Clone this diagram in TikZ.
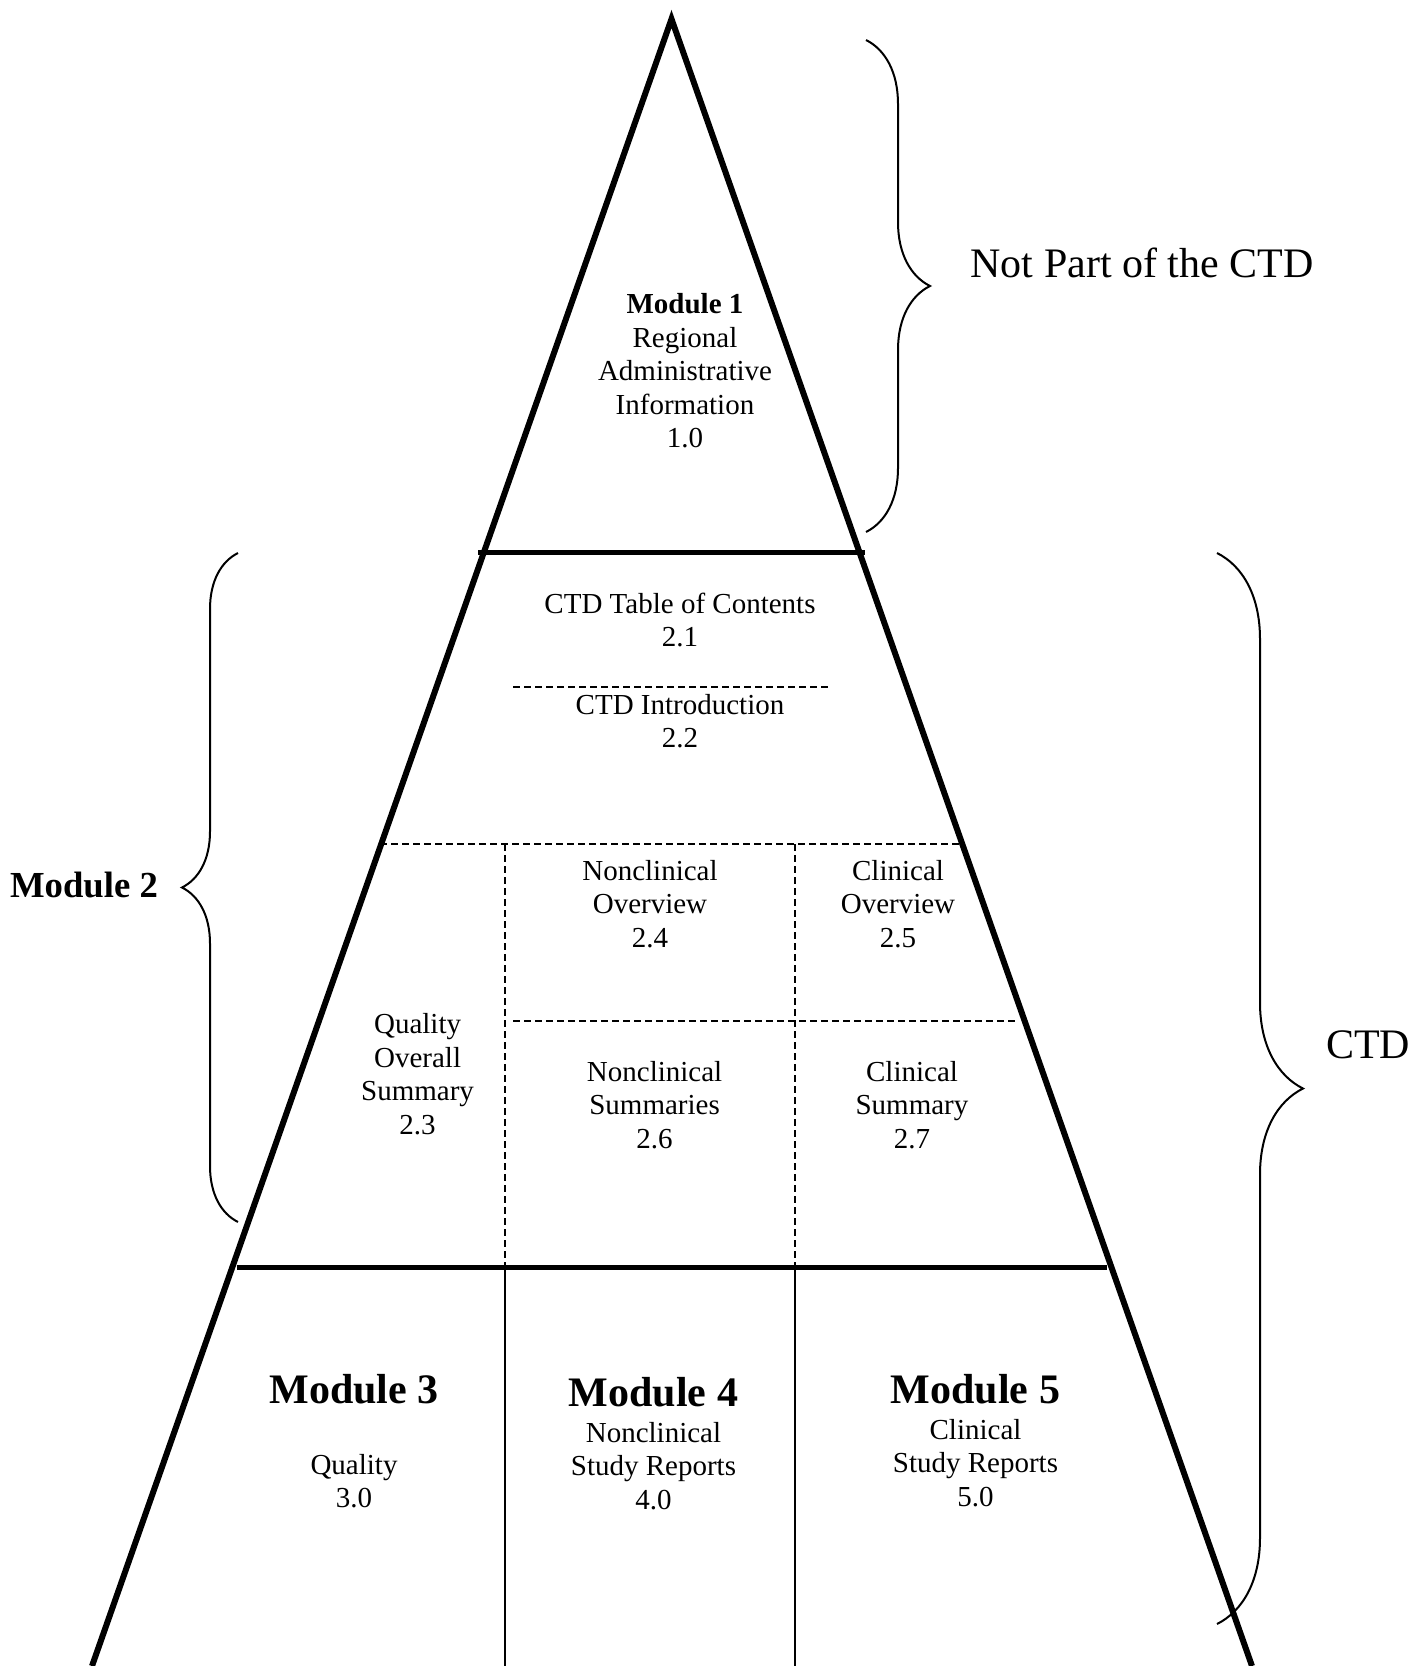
\documentclass[tikz,border=0pt]{standalone}
\usepackage{fontspec}
\setmainfont{Liberation Serif}
\usetikzlibrary{decorations.pathreplacing}

\begin{document}
\begin{tikzpicture}[x=1pt, y=-1pt,
    txt/.style={align=center, inner sep=0pt, font=\fontsize{29}{33.5}\selectfont},
    modtitle/.style={inner sep=0pt, font=\fontsize{42}{48}\selectfont\bfseries},
    sidelabel/.style={inner sep=0pt, font=\fontsize{42}{48}\selectfont},
    outline/.style={line width=6pt, line join=miter},
    divider/.style={line width=5pt},
    dashdiv/.style={line width=1.5pt, dash pattern=on 7pt off 4pt},
    rule/.style={line width=1.5pt},
    curly/.style={line width=2pt, decorate, decoration={brace, amplitude=#1}},
]
\useasboundingbox (0,0) rectangle (1424,1666);

% Pyramid outline
\coordinate (apex) at (671.5,19);
\coordinate (baseL) at (92,1666);
\coordinate (baseR) at (1252,1666);
\draw[outline] (baseL) -- (apex) -- (baseR);

% Thick module dividers
\draw[divider] (478,552.6) -- (865,552.6);
\draw[divider] (237,1267) -- (1107,1267);

% Dashed sections of Module 2
\draw[dashdiv] (513,687) -- (830,687);
\draw[dashdiv] (380,844) -- (960,844);
\draw[dashdiv] (505,844) -- (505,1267);
\draw[dashdiv] (795,844) -- (795,1267);
\draw[dashdiv] (513,1021) -- (1015,1021);

% Module 3/4/5 columns
\draw[rule] (505,1267) -- (505,1680);
\draw[rule] (795,1267) -- (795,1680);

% Braces
\draw[curly=64] (866,40) -- (866,532);
\draw[curly=86] (1217,553) -- (1217,1624);
\draw[curly=56] (238,1222) -- (238,553);

\node[sidelabel] (notctd) at (1142,263) {Not Part of the CTD};
\node[sidelabel] (ctd) at (1368,1045) {CTD};
\node[inner sep=0pt, font=\fontsize{36.7}{42}\selectfont\bfseries] (mod2) at (84,885) {Module 2};

% Module 1 and Module 2 texts
\node[txt] (mod1) at (685,371) {\textbf{Module 1}\\Regional\\Administrative\\Information\\1.0};
\node[txt] (toc) at (680,620) {CTD Table of Contents\\2.1};
\node[txt] (intro) at (680,721) {CTD Introduction\\2.2};
\node[txt] (qos) at (417.6,1074) {Quality\\Overall\\Summary\\2.3};
\node[txt] (ncover) at (650,904) {Nonclinical\\Overview\\2.4};
\node[txt] (clover) at (898,904) {Clinical\\Overview\\2.5};
\node[txt] (ncsum) at (654.6,1105) {Nonclinical\\Summaries\\2.6};
\node[txt] (clsum) at (912,1105) {Clinical\\Summary\\2.7};

% Modules 3 to 5
\node[modtitle] (m3title) at (354,1389) {Module 3};
\node[txt] (m3text) at (354,1481) {Quality\\3.0};
\node[modtitle] (m4title) at (653.5,1392) {Module 4};
\node[txt] (m4text) at (653.5,1466) {Nonclinical\\Study Reports\\4.0};
\node[modtitle] (m5title) at (975.5,1389) {Module 5};
\node[txt] (m5text) at (975.5,1463) {Clinical\\Study Reports\\5.0};

\end{tikzpicture}
\end{document}
